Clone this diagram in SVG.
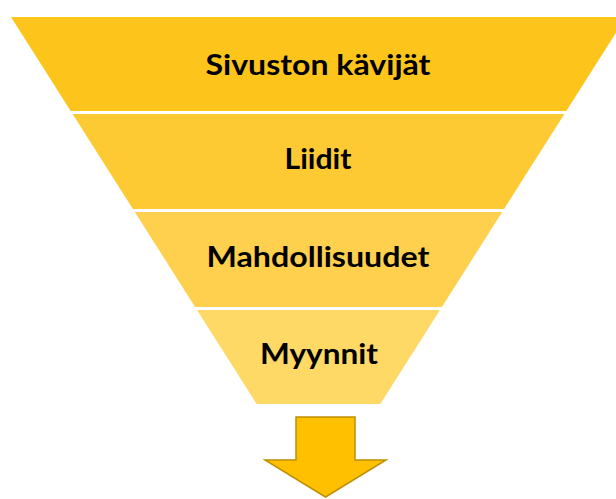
<svg xmlns="http://www.w3.org/2000/svg" width="616" height="499" viewBox="0 0 616 499">
<style>
.lbl{font-family:Lato,"Open Sans","Liberation Sans",sans-serif;font-weight:bold;font-size:28px;fill:#000;text-anchor:middle}
</style>
<rect width="616" height="499" fill="#fff"/>
<g id="layer1">
<polygon points="11,17 626,17 566.3,111 70.7,111" fill="#FDC51B"/>
<text class="lbl" x="318" y="75" textLength="225" lengthAdjust="spacingAndGlyphs">Sivuston kävijät</text>
</g>
<g id="layer2">
<polygon points="72.6,114 564.4,114 504.1,209 132.9,209" fill="#FECA34"/>
<text class="lbl" x="318" y="169" textLength="67" lengthAdjust="spacingAndGlyphs">Liidit</text>
</g>
<g id="layer3">
<polygon points="134.8,212 502.2,212 441.9,307 195.1,307" fill="#FED04D"/>
<text class="lbl" x="318" y="267" textLength="223" lengthAdjust="spacingAndGlyphs">Mahdollisuudet</text>
</g>
<g id="layer4">
<polygon points="197,310 440,310 380.3,404 256.7,404" fill="#FFD966"/>
<text class="lbl" x="319" y="364" textLength="118" lengthAdjust="spacingAndGlyphs">Myynnit</text>
</g>
<g id="connectors">
<polygon points="296,417 355,417 355,460 386,460 325.5,497 265,460 296,460" fill="#FFC000" stroke="#BF9000" stroke-width="1.5" stroke-linejoin="miter"/>
</g>
</svg>
